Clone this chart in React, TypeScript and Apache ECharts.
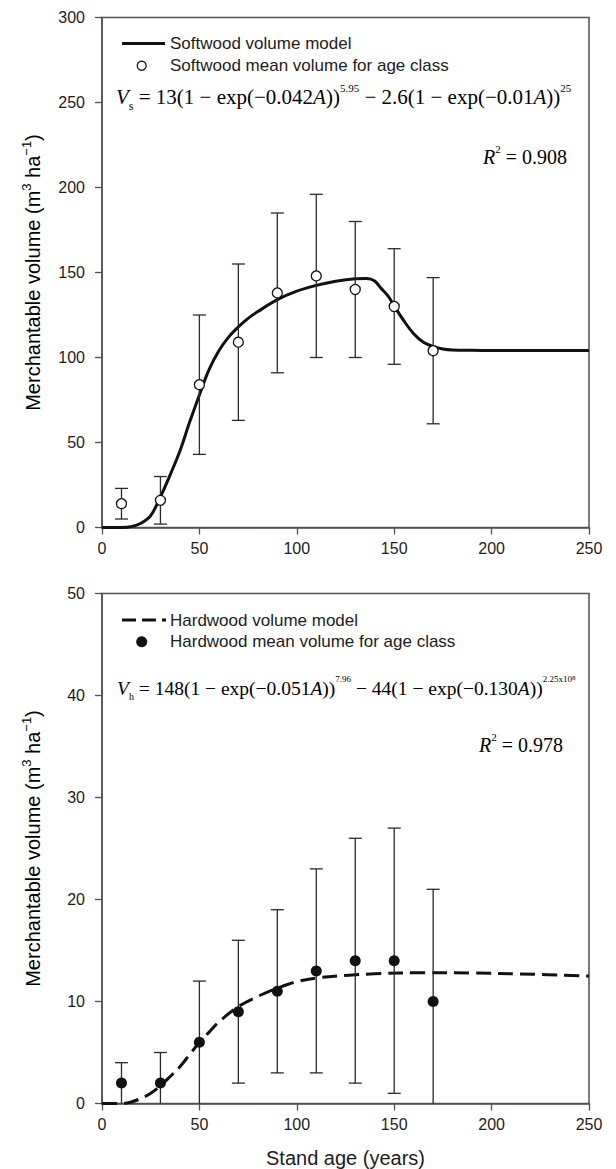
import React, { useEffect, useRef } from 'react';
import * as echarts from 'echarts';

// ---- data ----
const ageClasses = [10, 30, 50, 70, 90, 110, 130, 150, 170];
const softwoodMean = [14, 16, 84, 109, 138, 148, 140, 130, 104];
const softwoodErr = [9, 14, 41, 46, 47, 48, 40, 34, 43];
const hardwoodMean = [2, 2, 6, 9, 11, 13, 14, 14, 10];
const hardwoodErr = [2, 3, 6, 7, 8, 10, 12, 13, 11];

const softwoodModelAge = [0, 10, 15, 20, 25, 30, 35, 40, 45, 50, 55, 60, 65, 70, 75, 80, 90, 100, 110, 120, 130, 136, 140, 143, 147, 150, 155, 160, 165, 170, 175, 180, 190, 200, 250];
const softwoodModelVol = [0, 0, 0.5, 2.5, 7, 18, 31, 45, 62, 78, 93, 104, 112, 118, 123, 127, 134, 139, 142.4, 144.8, 146.3, 146.5, 145, 141, 136, 130.3, 121.5, 114, 109, 106.5, 105, 104.4, 104.2, 104.1, 104.1];

const hardwoodModelAge = [0, 10, 15, 20, 25, 30, 35, 40, 45, 50, 55, 60, 70, 80, 90, 100, 110, 125, 140, 165, 190, 215, 250];
const hardwoodModelVol = [0, 0, 0.15, 0.5, 1.0, 1.75, 2.65, 3.6, 4.8, 6.0, 7.0, 8.0, 9.5, 10.5, 11.3, 11.95, 12.3, 12.55, 12.72, 12.82, 12.8, 12.7, 12.5];

const xMin = 0, xMax = 250, xInterval = 50;
const softYMax = 300, softYInterval = 50;
const hardYMax = 50, hardYInterval = 10;

const SANS = 'Liberation Sans, Arial, sans-serif';
const SERIF = 'Liberation Serif, Times New Roman, serif';
const INK = '#1c1c1c';
const AXIS = '#505050';

function errorRenderItem(params: any, api: any) {
  const x = api.value(0);
  const m = api.value(1);
  const e = api.value(2);
  const hi = m + e;
  const loRaw = m - e;
  const lo = Math.max(0, loRaw);
  const pHi = api.coord([x, hi]);
  const pLo = api.coord([x, lo]);
  const hw = 6.5;
  const st = { stroke: '#2a2a2a', lineWidth: 1.3 };
  const children: any[] = [
    { type: 'line', shape: { x1: pHi[0], y1: pHi[1], x2: pLo[0], y2: pLo[1] }, style: st },
    { type: 'line', shape: { x1: pHi[0] - hw, y1: pHi[1], x2: pHi[0] + hw, y2: pHi[1] }, style: st },
  ];
  if (loRaw > 0) {
    children.push({ type: 'line', shape: { x1: pLo[0] - hw, y1: pLo[1], x2: pLo[0] + hw, y2: pLo[1] }, style: st });
  }
  return { type: 'group', children };
}

function makeEqRich(size: number, supSize: number) {
  return {
    n: { fontFamily: SERIF, fontSize: size, lineHeight: size + 8, color: INK },
    i: { fontFamily: SERIF, fontSize: size, lineHeight: size + 8, fontStyle: 'italic', color: INK },
    sup: { fontFamily: SERIF, fontSize: supSize, lineHeight: supSize, verticalAlign: 'top', color: INK },
    sup2: { fontFamily: SERIF, fontSize: supSize - 2, lineHeight: supSize - 4, verticalAlign: 'top', color: INK },
    sub: { fontFamily: SERIF, fontSize: supSize + 1, lineHeight: size + 2, verticalAlign: 'bottom', color: INK },
  };
}
const eqRichTop = makeEqRich(21, 11);
const eqRichBot = makeEqRich(19.5, 9);
const r2Rich = makeEqRich(20, 11);

const titleRich = {
  t: { fontFamily: SANS, fontSize: 20, lineHeight: 26, color: INK },
  sup: { fontFamily: SANS, fontSize: 13, lineHeight: 13, verticalAlign: 'top', color: INK },
};

function xAxisCfg(gridIndex: number) {
  return {
    type: 'value', gridIndex, min: xMin, max: xMax, interval: xInterval,
    axisLine: { show: true, lineStyle: { color: AXIS, width: 1.5 } },
    axisTick: { show: true, inside: false, length: 7, lineStyle: { color: AXIS, width: 1.3 } },
    axisLabel: { fontFamily: SANS, fontSize: 16, color: INK, margin: 13 },
    splitLine: { show: false },
  };
}
function yAxisCfg(gridIndex: number, max: number, interval: number) {
  return {
    type: 'value', gridIndex, min: 0, max, interval,
    axisLine: { show: true, lineStyle: { color: AXIS, width: 1.5 } },
    axisTick: { show: true, inside: false, length: 7, lineStyle: { color: AXIS, width: 1.3 } },
    axisLabel: { fontFamily: SANS, fontSize: 16, color: INK, margin: 17 },
    splitLine: { show: false },
  };
}

export default function App() {
  const ref = useRef<HTMLDivElement>(null);
  useEffect(() => {
    document.body.style.margin = '0';
    const chart = echarts.init(ref.current!, null, { renderer: 'svg' });
    const gridTop1 = 17.5, gridTop2 = 593.5, gridH = 510, gridL = 102, gridW = 487;
    const option: any = {
      animation: false,
      backgroundColor: '#ffffff',
      grid: [
        { left: gridL, top: gridTop1, width: gridW, height: gridH, show: true, borderColor: AXIS, borderWidth: 1.5, backgroundColor: 'transparent' },
        { left: gridL, top: gridTop2, width: gridW, height: gridH, show: true, borderColor: AXIS, borderWidth: 1.5, backgroundColor: 'transparent' },
      ],
      xAxis: [xAxisCfg(0), xAxisCfg(1)],
      yAxis: [yAxisCfg(0, softYMax, softYInterval), yAxisCfg(1, hardYMax, hardYInterval)],
      series: [
        {
          name: 'Softwood volume model', type: 'line', xAxisIndex: 0, yAxisIndex: 0,
          data: softwoodModelAge.map((a, i) => [a, softwoodModelVol[i]]),
          showSymbol: false, smooth: 0.35,
          lineStyle: { color: '#111', width: 3 }, z: 2,
        },
        {
          name: 'Softwood error', type: 'custom', xAxisIndex: 0, yAxisIndex: 0,
          data: ageClasses.map((a, i) => [a, softwoodMean[i], softwoodErr[i]]),
          encode: { x: 0, y: 1 }, renderItem: errorRenderItem, z: 3,
        },
        {
          name: 'Softwood mean volume for age class', type: 'scatter', xAxisIndex: 0, yAxisIndex: 0,
          data: ageClasses.map((a, i) => [a, softwoodMean[i]]),
          symbol: 'circle', symbolSize: 10,
          itemStyle: { color: '#ffffff', borderColor: '#111', borderWidth: 1.3, opacity: 1 }, z: 4,
        },
        {
          name: 'Hardwood volume model', type: 'line', xAxisIndex: 1, yAxisIndex: 1,
          data: hardwoodModelAge.map((a, i) => [a, hardwoodModelVol[i]]),
          showSymbol: false, smooth: 0.35,
          lineStyle: { color: '#111', width: 3, type: [15, 7] }, z: 2,
        },
        {
          name: 'Hardwood error', type: 'custom', xAxisIndex: 1, yAxisIndex: 1,
          data: ageClasses.map((a, i) => [a, hardwoodMean[i], hardwoodErr[i]]),
          encode: { x: 0, y: 1 }, renderItem: errorRenderItem, z: 3,
        },
        {
          name: 'Hardwood mean volume for age class', type: 'scatter', xAxisIndex: 1, yAxisIndex: 1,
          data: ageClasses.map((a, i) => [a, hardwoodMean[i]]),
          symbol: 'circle', symbolSize: 11,
          itemStyle: { color: '#111', borderWidth: 0, opacity: 1 }, z: 4,
        },
      ],
      graphic: [
        // top legend
        { type: 'line', shape: { x1: 122, y1: 43.5, x2: 165, y2: 43.5 }, style: { stroke: '#111', lineWidth: 3 } },
        { type: 'text', x: 170, y: 43.5, style: { text: 'Softwood volume model', fontFamily: SANS, fontSize: 17, fill: INK, verticalAlign: 'middle' } },
        { type: 'circle', shape: { cx: 141.7, cy: 65.7, r: 4.5 }, style: { fill: '#fff', stroke: '#111', lineWidth: 1.3 } },
        { type: 'text', x: 170, y: 65.7, style: { text: 'Softwood mean volume for age class', fontFamily: SANS, fontSize: 17, fill: INK, verticalAlign: 'middle' } },
        // top equation
        {
          type: 'text', x: 116, y: 97,
          style: {
            text: '{i|V}{sub|s}{n| = 13(1 − exp(−0.042}{i|A}{n|))}{sup|5.95}{n| − 2.6(1 − exp(−0.01}{i|A}{n|))}{sup|25}',
            rich: eqRichTop, verticalAlign: 'middle', align: 'left',
          },
        },
        {
          type: 'text', x: 567, y: 157,
          style: { text: '{i|R}{sup|2}{n| = 0.908}', rich: r2Rich, verticalAlign: 'middle', align: 'right' },
        },
        // bottom legend
        { type: 'line', shape: { x1: 122, y1: 620, x2: 166, y2: 620 }, style: { stroke: '#111', lineWidth: 3, lineDash: [14, 6] } },
        { type: 'text', x: 170, y: 620, style: { text: 'Hardwood volume model', fontFamily: SANS, fontSize: 17, fill: INK, verticalAlign: 'middle' } },
        { type: 'circle', shape: { cx: 141.7, cy: 641.7, r: 5.5 }, style: { fill: '#111' } },
        { type: 'text', x: 170, y: 641.7, style: { text: 'Hardwood mean volume for age class', fontFamily: SANS, fontSize: 17, fill: INK, verticalAlign: 'middle' } },
        // bottom equation
        {
          type: 'text', x: 117, y: 688,
          style: {
            text: '{i|V}{sub|h}{n| = 148(1 − exp(−0.051}{i|A}{n|))}{sup|7.96}{n| − 44(1 − exp(−0.130}{i|A}{n|))}{sup|2.25x10}{sup2|8}',
            rich: eqRichBot, verticalAlign: 'middle', align: 'left',
          },
        },
        {
          type: 'text', x: 563, y: 745,
          style: { text: '{i|R}{sup|2}{n| = 0.978}', rich: r2Rich, verticalAlign: 'middle', align: 'right' },
        },
        // axis titles
        {
          type: 'text', x: 33, y: gridTop1 + gridH / 2, rotation: Math.PI / 2,
          style: { text: '{t|Merchantable volume (m}{sup|3}{t| ha}{sup|−1}{t|)}', rich: titleRich, align: 'center', verticalAlign: 'middle' },
        },
        {
          type: 'text', x: 33, y: gridTop2 + gridH / 2, rotation: Math.PI / 2,
          style: { text: '{t|Merchantable volume (m}{sup|3}{t| ha}{sup|−1}{t|)}', rich: titleRich, align: 'center', verticalAlign: 'middle' },
        },
        {
          type: 'text', x: gridL + gridW / 2, y: 1158,
          style: { text: 'Stand age (years)', fontFamily: SANS, fontSize: 20, fill: INK, align: 'center', verticalAlign: 'middle' },
        },
      ],
    };
    chart.setOption(option);
    return () => chart.dispose();
  }, []);
  return <div ref={ref} style={{ width: 616, height: 1169 }} />;
}
